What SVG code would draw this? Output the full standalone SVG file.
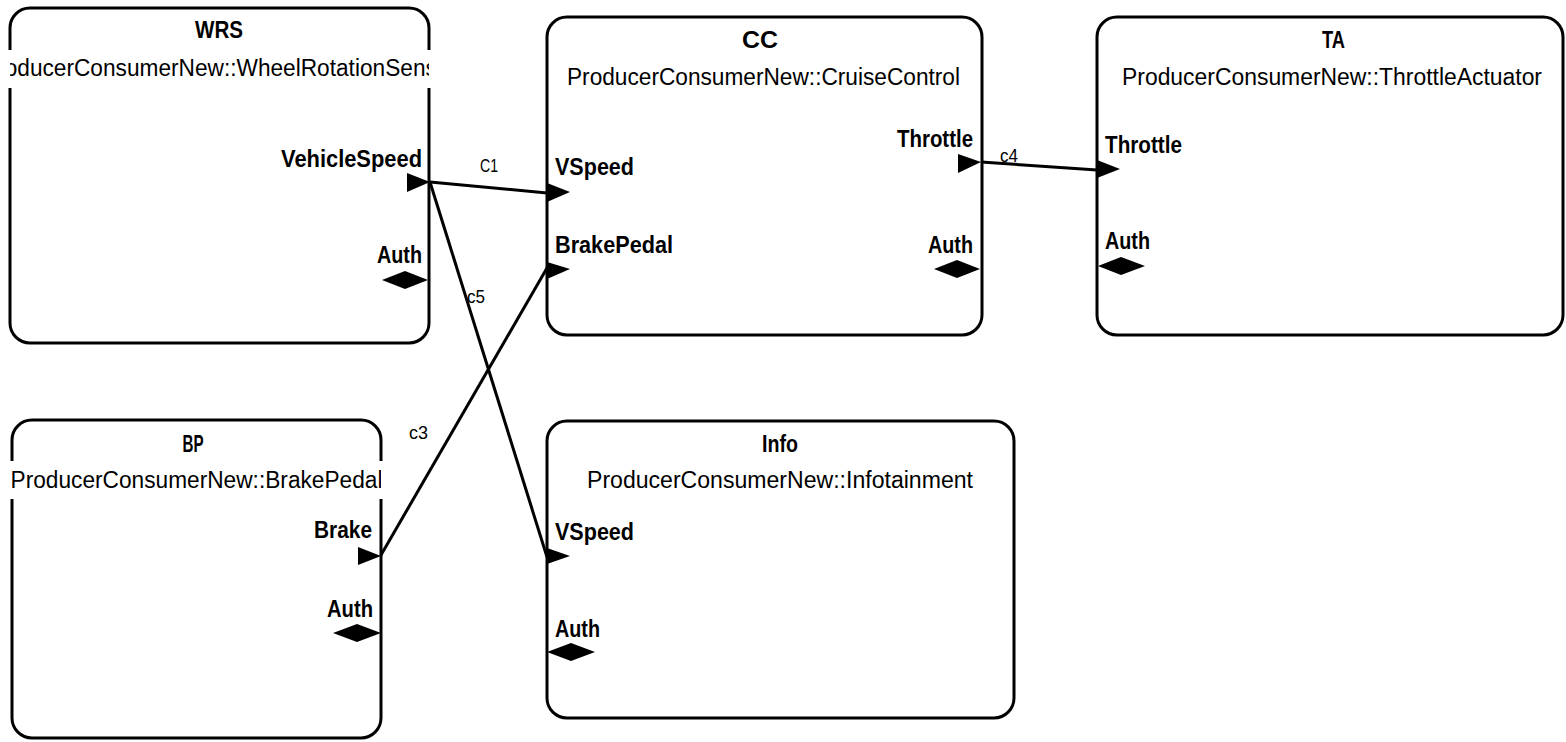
<svg xmlns="http://www.w3.org/2000/svg" width="1566" height="742" viewBox="0 0 1566 742">
<style>
.box{fill:#fff;stroke:#000;stroke-width:3}
.band{fill:#fff;stroke:none}
.title{font-family:"Liberation Sans",Arial,sans-serif;font-weight:bold;font-size:23px;fill:#000;text-anchor:middle}
.sub{font-family:"Liberation Sans",Arial,sans-serif;font-size:23px;fill:#000;text-anchor:middle}
.pl{font-family:"Liberation Sans",Arial,sans-serif;font-weight:bold;font-size:23px;fill:#000}
.pr{font-family:"Liberation Sans",Arial,sans-serif;font-weight:bold;font-size:23px;fill:#000;text-anchor:end}
.port{fill:#000;stroke:none}
.conn{stroke:#000;stroke-width:3;fill:none}
.cl{font-family:"Liberation Sans",Arial,sans-serif;font-size:19px;fill:#000}
</style>
<defs>
<clipPath id="clipWRS"><rect x="10" y="8" width="419" height="335"/></clipPath>
<clipPath id="clipBP"><rect x="12" y="420" width="369" height="318"/></clipPath>
</defs>
<rect width="1566" height="742" fill="#fff"/>

<g id="WRS">
<rect class="box" x="10" y="8" width="419" height="335" rx="20" ry="20"/>
<rect class="band" x="7" y="50" width="425" height="38"/>
<text class="title" x="219" y="38" textLength="48" lengthAdjust="spacingAndGlyphs">WRS</text>
<text class="sub" x="219.5" y="76" textLength="475" lengthAdjust="spacingAndGlyphs" clip-path="url(#clipWRS)">ProducerConsumerNew::WheelRotationSensor</text>
<text class="pr" x="422" y="167" textLength="141" lengthAdjust="spacingAndGlyphs">VehicleSpeed</text>
<polygon class="port" points="407,173 430,182 407,192"/>
<text class="pr" x="422" y="263" textLength="45" lengthAdjust="spacingAndGlyphs">Auth</text>
<polygon class="port" points="382,280 405,271 428,280 405,289"/>
</g>

<g id="CC">
<rect class="box" x="547" y="17" width="435" height="318" rx="20" ry="20"/>
<text class="title" x="760" y="48" textLength="36" lengthAdjust="spacingAndGlyphs">CC</text>
<text class="sub" x="763.5" y="85" textLength="393" lengthAdjust="spacingAndGlyphs">ProducerConsumerNew::CruiseControl</text>
<text class="pl" x="555" y="175" textLength="79" lengthAdjust="spacingAndGlyphs">VSpeed</text>
<polygon class="port" points="547,183 570,192 547,202"/>
<text class="pl" x="555" y="253" textLength="118" lengthAdjust="spacingAndGlyphs">BrakePedal</text>
<polygon class="port" points="547,262 570,269 547,279"/>
<text class="pr" x="973" y="147" textLength="76" lengthAdjust="spacingAndGlyphs">Throttle</text>
<polygon class="port" points="958,154 981,162 958,173"/>
<text class="pr" x="973" y="253" textLength="45" lengthAdjust="spacingAndGlyphs">Auth</text>
<polygon class="port" points="934,269 957,260 980,269 957,278"/>
</g>

<g id="TA">
<rect class="box" x="1097" y="17" width="466" height="318" rx="20" ry="20"/>
<text class="title" x="1333.5" y="48" textLength="23" lengthAdjust="spacingAndGlyphs">TA</text>
<text class="sub" x="1332" y="85" textLength="420" lengthAdjust="spacingAndGlyphs">ProducerConsumerNew::ThrottleActuator</text>
<text class="pl" x="1105" y="153" textLength="77" lengthAdjust="spacingAndGlyphs">Throttle</text>
<polygon class="port" points="1097,160 1120,169 1097,178"/>
<text class="pl" x="1105" y="249" textLength="45" lengthAdjust="spacingAndGlyphs">Auth</text>
<polygon class="port" points="1098,266 1121,257 1145,266 1121,275"/>
</g>

<g id="BP">
<rect class="box" x="12" y="420" width="369" height="318" rx="20" ry="20"/>
<rect class="band" x="9" y="461" width="375" height="38"/>
<text class="title" x="193" y="452" textLength="21" lengthAdjust="spacingAndGlyphs">BP</text>
<text class="sub" x="196.5" y="488" textLength="372" lengthAdjust="spacingAndGlyphs" clip-path="url(#clipBP)">ProducerConsumerNew::BrakePedal</text>
<text class="pr" x="372" y="538" textLength="58" lengthAdjust="spacingAndGlyphs">Brake</text>
<polygon class="port" points="358,547 381,556 358,565"/>
<text class="pr" x="373" y="617" textLength="46" lengthAdjust="spacingAndGlyphs">Auth</text>
<polygon class="port" points="333,633 357,624 381,633 357,642"/>
</g>

<g id="Info">
<rect class="box" x="547" y="421" width="467" height="297" rx="20" ry="20"/>
<text class="title" x="780" y="452" textLength="36" lengthAdjust="spacingAndGlyphs">Info</text>
<text class="sub" x="780" y="488" textLength="386" lengthAdjust="spacingAndGlyphs">ProducerConsumerNew::Infotainment</text>
<text class="pl" x="555" y="540" textLength="79" lengthAdjust="spacingAndGlyphs">VSpeed</text>
<polygon class="port" points="547,548 570,556 547,564"/>
<text class="pl" x="555" y="637" textLength="45" lengthAdjust="spacingAndGlyphs">Auth</text>
<polygon class="port" points="547,652 571,643 595,652 571,661"/>
</g>

<g id="connectors">
<line class="conn" x1="430" y1="182" x2="547" y2="193"/>
<line class="conn" x1="430" y1="182" x2="547" y2="557"/>
<line class="conn" x1="381" y1="555" x2="547" y2="268"/>
<line class="conn" x1="981" y1="162" x2="1097" y2="170"/>
<text class="cl" x="480" y="172" textLength="18" lengthAdjust="spacingAndGlyphs">C1</text>
<text class="cl" x="467" y="303" textLength="18" lengthAdjust="spacingAndGlyphs">c5</text>
<text class="cl" x="409" y="439" textLength="19" lengthAdjust="spacingAndGlyphs">c3</text>
<text class="cl" x="1000" y="162" textLength="18" lengthAdjust="spacingAndGlyphs">c4</text>
</g>
</svg>
